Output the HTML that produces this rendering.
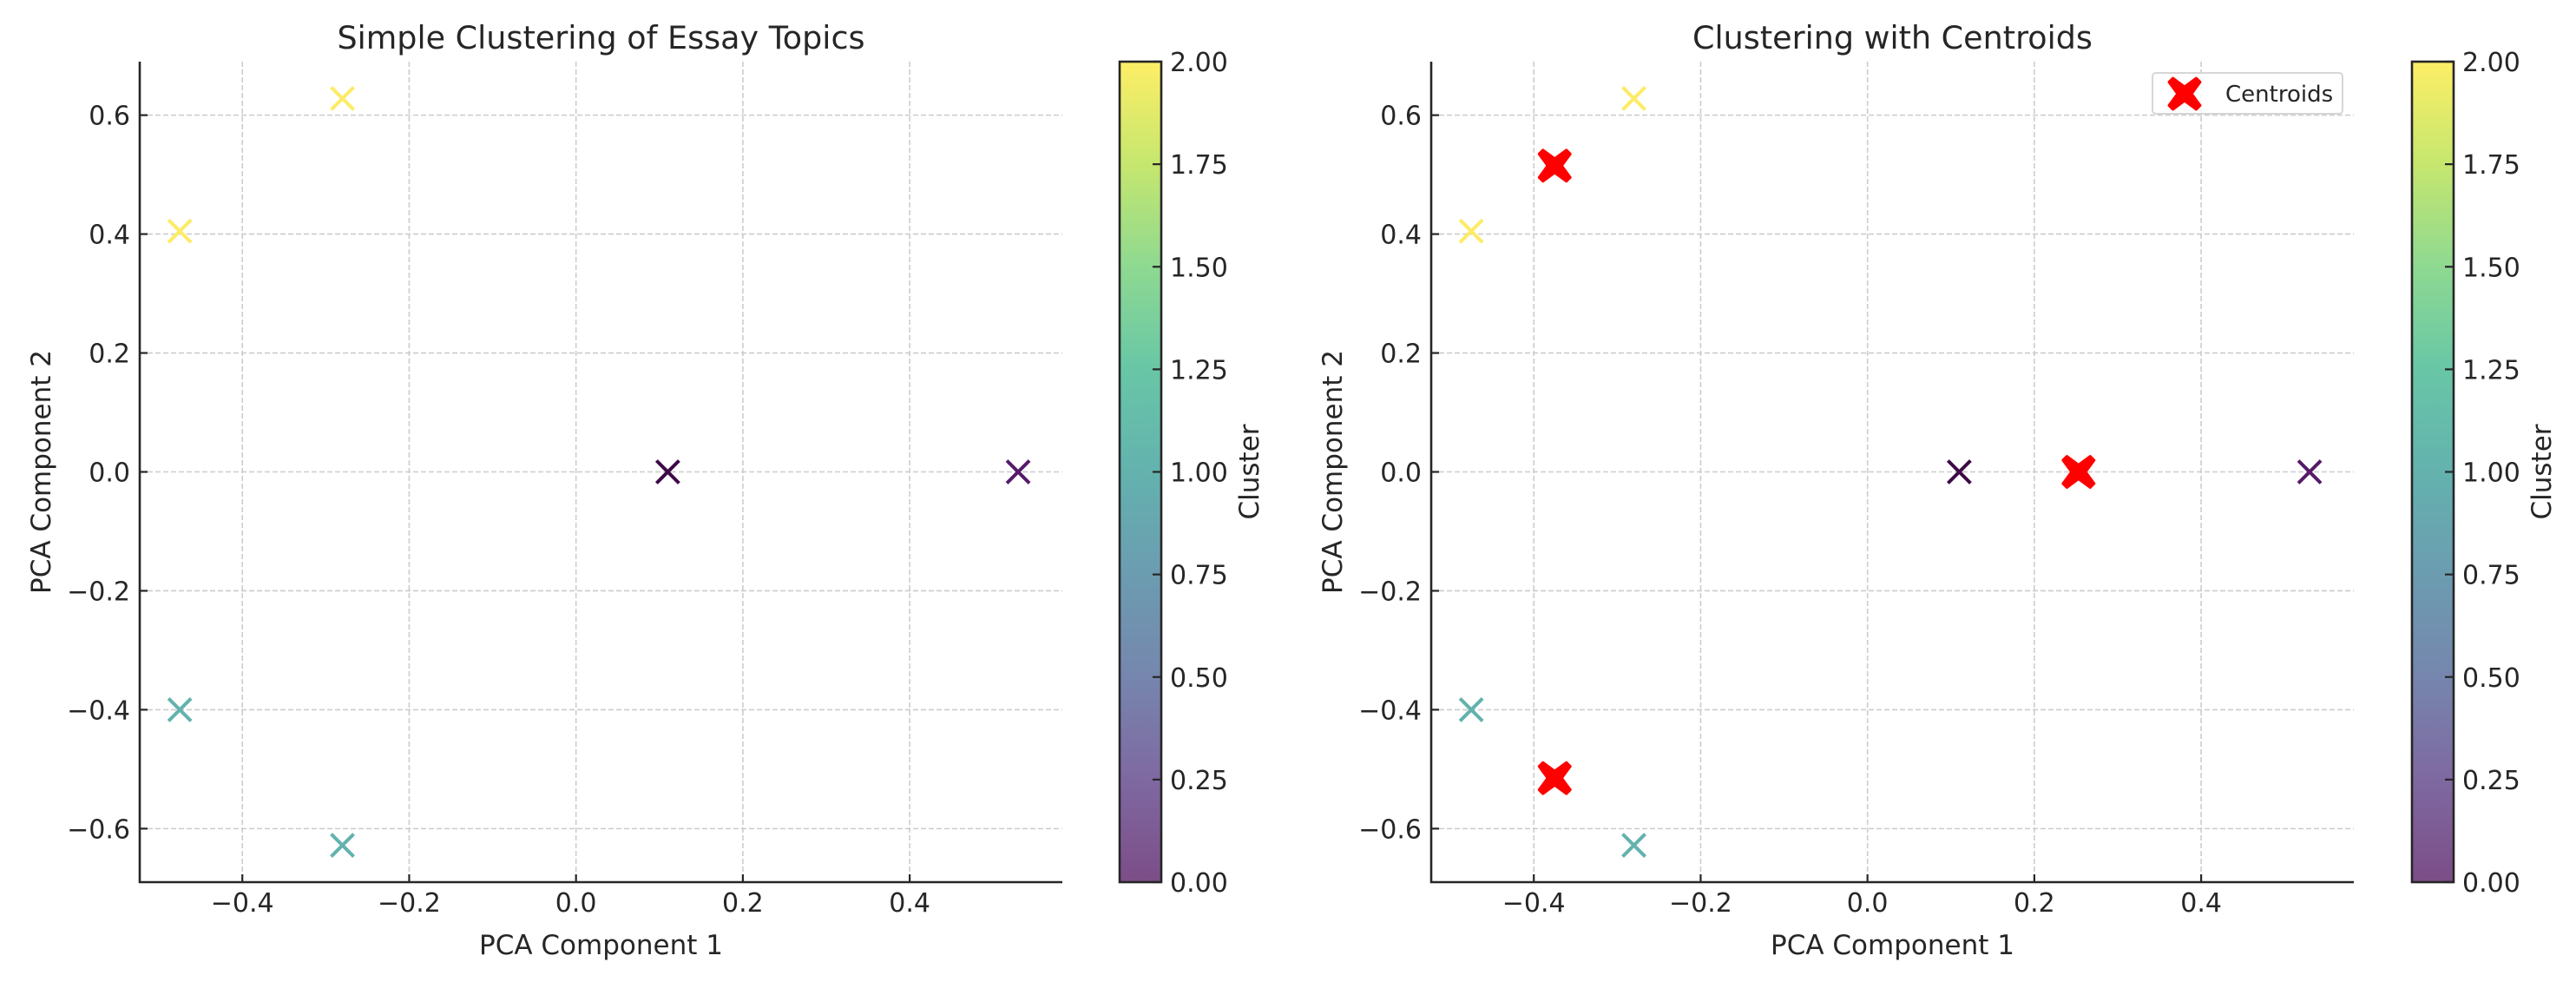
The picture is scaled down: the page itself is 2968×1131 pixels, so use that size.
<!DOCTYPE html>
<html><head><meta charset="utf-8"><style>
html,body{margin:0;padding:0;background:#fff}
svg{display:block;font-family:"DejaVu Sans","Liberation Sans",sans-serif}
</style></head><body>
<svg id="fig" width="2968" height="1131" viewBox="0 0 2968 1131">
<defs>
<linearGradient id="vir" x1="0" y1="1" x2="0" y2="0">
<stop offset="0" stop-color="#440154"/><stop offset="0.125" stop-color="#482878"/><stop offset="0.25" stop-color="#3b528b"/><stop offset="0.375" stop-color="#2c728e"/><stop offset="0.5" stop-color="#21918c"/><stop offset="0.625" stop-color="#28ae80"/><stop offset="0.75" stop-color="#5ec962"/><stop offset="0.875" stop-color="#addc30"/><stop offset="1" stop-color="#fde725"/>
</linearGradient>
</defs>
</svg>
<script>
const pointsX = [-0.475, -0.28, -0.475, -0.28, 0.11, 0.53];
const pointsY = [0.405, 0.628, -0.40, -0.628, 0.0, 0.0];
const clusters = [2, 2, 1, 1, 0, 0];
const centroidX = [-0.375, -0.375, 0.253];
const centroidY = [0.515, -0.515, 0.0];
const xTicks = [-0.4, -0.2, 0.0, 0.2, 0.4];
const xTickLabels = ["\u22120.4", "\u22120.2", "0.0", "0.2", "0.4"];
const yTicks = [-0.6, -0.4, -0.2, 0.0, 0.2, 0.4, 0.6];
const yTickLabels = ["\u22120.6", "\u22120.4", "\u22120.2", "0.0", "0.2", "0.4", "0.6"];
const cbTicks = [0, 0.25, 0.5, 0.75, 1.0, 1.25, 1.5, 1.75, 2.0];
const cbTickLabels = ["0.00","0.25","0.50","0.75","1.00","1.25","1.50","1.75","2.00"];
const clusterColors = ["#561a68", "#63b2ae", "#fdeb66"];

const NS = "http://www.w3.org/2000/svg";
const svg = document.getElementById('fig');
function mk(tag, attrs, parent, text){
  const e = document.createElementNS(NS, tag);
  for (const k in attrs) e.setAttribute(k, attrs[k]);
  if (text !== undefined) e.textContent = text;
  (parent || svg).appendChild(e);
  return e;
}
const XMIN = -0.523, XMAX = 0.583, YMIN = -0.69, YMAX = 0.69;
const TOP = 71, BOT = 1016;

function panel(left, right, title, showCentroids, cbLeft, name){
  const g = mk('g', {});
  
  
  const sx = v => left + (v - XMIN) / (XMAX - XMIN) * (right - left);
  const sy = v => BOT - (v - YMIN) / (YMAX - YMIN) * (BOT - TOP);
  xTicks.forEach((t) => {
    const l = mk('line', {x1: sx(t), x2: sx(t), y1: TOP, y2: BOT, stroke: '#cccccc', 'stroke-width': 1.6, 'stroke-dasharray': '6,3'}, g);
    
    
  });
  yTicks.forEach((t) => {
    const l = mk('line', {x1: left, x2: right, y1: sy(t), y2: sy(t), stroke: '#cccccc', 'stroke-width': 1.6, 'stroke-dasharray': '6,3'}, g);
    
    
  });
  pointsX.forEach((px, i) => {
    const cx = sx(px), cy = sy(pointsY[i]), r = 13;
    const p = mk('path', {d: `M${cx-r},${cy-r}L${cx+r},${cy+r}M${cx-r},${cy+r}L${cx+r},${cy-r}`, stroke: clusterColors[clusters[i]], 'stroke-width': 4, fill: 'none'}, g);
    
    
    if (i === 4) p.setAttribute('stroke', '#3d0a47');
  });
  function bigX(cx, cy, s, parent){
    const a = s, b = s * 0.5;
    const d = `M${cx-a+b*0.5},${cy-a}L${cx},${cy-a+b*1.1}L${cx+a-b*0.5},${cy-a}L${cx+a},${cy-a+b*0.5}L${cx+a-b*1.1},${cy}L${cx+a},${cy+a-b*0.5}L${cx+a-b*0.5},${cy+a}L${cx},${cy+a-b*1.1}L${cx-a+b*0.5},${cy+a}L${cx-a},${cy+a-b*0.5}L${cx-a+b*1.1},${cy}L${cx-a},${cy-a+b*0.5}Z`;
    return mk('path', {d: d, fill: '#ff0000', stroke: '#ff0000', 'stroke-width': 3, 'stroke-linejoin': 'round'}, parent);
  }
  if (showCentroids){
    centroidX.forEach((cxv, i) => {
      const p = bigX(sx(cxv), sy(centroidY[i]), 18, g);
      
      
    });
    const lg = mk('g', {}, g);
    
    
    mk('rect', {x: right - 232, y: 84, width: 219, height: 47, rx: 4, fill: '#ffffff', 'fill-opacity': 0.8, stroke: '#d6d6d6', 'stroke-width': 2}, lg);
    bigX(right - 195, 108, 18, lg);
    const lt = mk('text', {x: right - 148, y: 117, 'font-size': 26, fill: '#262626'}, lg, 'Centroids');
    
    
  }
  const sp = mk('path', {d: `M${left},${TOP}L${left},${BOT}L${right},${BOT}`, stroke: '#262626', 'stroke-width': 2.6, fill: 'none'}, g);
  
  
  xTicks.forEach((t, i) => {
    mk('line', {x1: sx(t), x2: sx(t), y1: BOT, y2: BOT - 9, stroke: '#262626', 'stroke-width': 2.2}, g);
    const tx = mk('text', {x: sx(t), y: 1050, 'font-size': 30, fill: '#262626', 'text-anchor': 'middle'}, g, xTickLabels[i]);
    
    
  });
  yTicks.forEach((t, i) => {
    mk('line', {x1: left, x2: left + 9, y1: sy(t), y2: sy(t), stroke: '#262626', 'stroke-width': 2.2}, g);
    const tx = mk('text', {x: left - 11, y: sy(t) + 11, 'font-size': 30, fill: '#262626', 'text-anchor': 'end'}, g, yTickLabels[i]);
    
    
  });
  const mid = (left + right) / 2;
  const tt = mk('text', {x: mid, y: 56, 'font-size': 36.5, fill: '#262626', 'text-anchor': 'middle'}, g, title);
  
  
  const xl = mk('text', {x: mid, y: 1099, 'font-size': 31, fill: '#262626', 'text-anchor': 'middle'}, g, 'PCA Component 1');
  
  
  const yl = mk('text', {x: 0, y: 0, 'font-size': 31, fill: '#262626', 'text-anchor': 'middle', transform: `translate(${left - 103},${(TOP + BOT) / 2}) rotate(-90)`}, g, 'PCA Component 2');
  
  
  const cb = mk('g', {}, g);
  
  
  const cbW = 48, cbR = cbLeft + cbW;
  mk('rect', {x: cbLeft, y: TOP, width: cbW, height: BOT - TOP, fill: 'url(#vir)', opacity: 0.7}, cb);
  mk('rect', {x: cbLeft, y: TOP, width: cbW, height: BOT - TOP, fill: 'none', stroke: '#262626', 'stroke-width': 2.6}, cb);
  const cy = v => BOT - v / 2 * (BOT - TOP);
  cbTicks.forEach((t, i) => {
    mk('line', {x1: cbR, x2: cbR - 10, y1: cy(t), y2: cy(t), stroke: '#262626', 'stroke-width': 2.2}, cb);
    const tx = mk('text', {x: cbR + 10, y: cy(t) + 11, 'font-size': 30, fill: '#262626'}, cb, cbTickLabels[i]);
    
    
  });
  const cl = mk('text', {x: 0, y: 0, 'font-size': 31, fill: '#262626', 'text-anchor': 'middle', transform: `translate(${cbR + 112},${(TOP + BOT) / 2}) rotate(-90)`}, cb, 'Cluster');
  
  
}
panel(161, 1224, 'Simple Clustering of Essay Topics', false, 1290, 'left-panel');
panel(1649, 2712, 'Clustering with Centroids', true, 2779, 'right-panel');
</script>
</body></html>
